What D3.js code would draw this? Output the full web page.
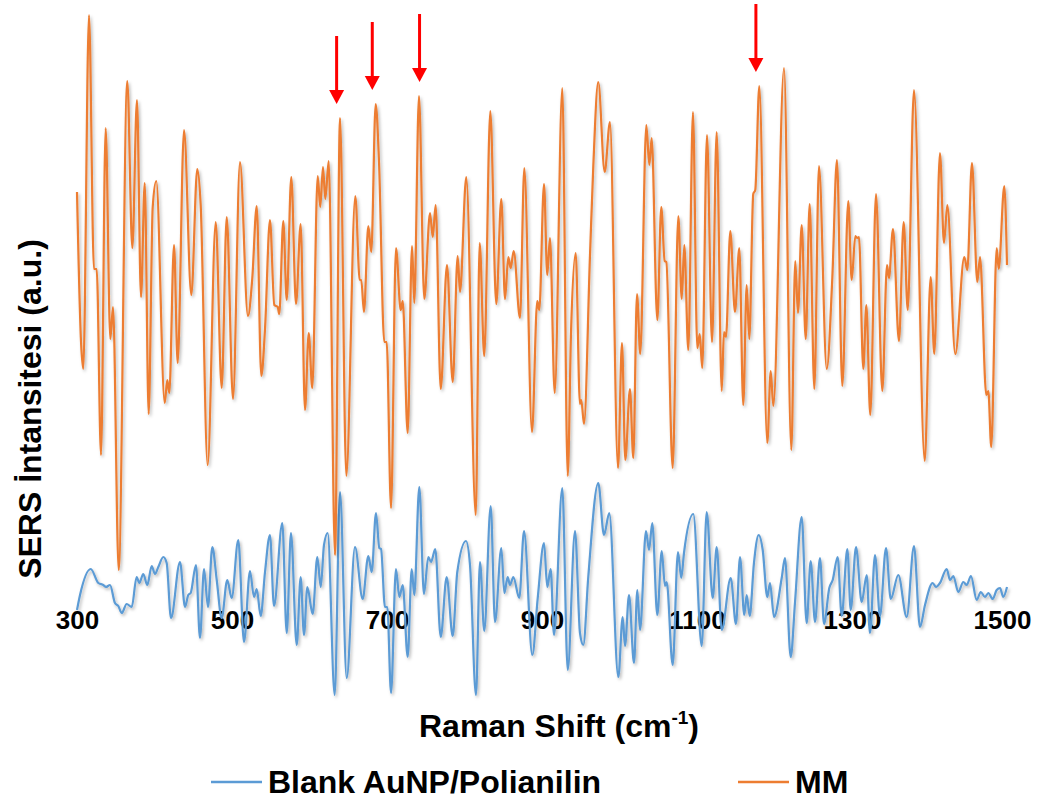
<!DOCTYPE html>
<html>
<head>
<meta charset="utf-8">
<script src="https://cdn.jsdelivr.net/npm/d3@7"></script>
<style>
  html, body { margin: 0; padding: 0; background: #ffffff; }
  svg { display: block; font-family: "Liberation Sans", Arial, sans-serif; }
</style>
</head>
<body>
<svg id="chart" width="1051" height="803"></svg>
<script>
// Raman shift (cm-1) and SERS intensity (a.u.), baseline-subtracted
const mmShift = [300,305.2,308.1,315.5,321.9,325.4,331,337,343,346.5,353.8,364.9,371.4,377.4,382.6,387.4,392.5,397.7,402.3,413.2,416.5,419.1,425.2,429.9,438.1,447.5,455.2,459.6,468.6,479,486.7,493.2,501.3,510.3,520.6,526.2,531.9,537.8,542.6,549,554.6,559,561,566.2,570.6,576.5,582.6,588.6,594.2,599,603.6,610.6,613.9,617.4,620.4,624.8,632.9,639.4,647.5,659.1,664.8,666.8,670.3,675.9,679.7,685.4,689.7,696.5,699.6,705.2,711.6,717.7,720.3,726.7,732.3,735.2,741.3,748.1,755.5,759,762.8,769.3,777.4,784.8,791.2,794.2,802.3,814.5,819.6,825.5,833.3,841,847.5,852.3,856.5,859.6,863.5,871.6,877.2,887.1,893.9,896.5,902.6,906.8,910.3,916.4,926.2,933.2,937.5,943.5,949,950.7,954.2,961.9,966.2,972.6,980.9,987.7,998.1,1003.2,1007.5,1013.5,1017.8,1022.6,1026.8,1034.6,1038.5,1041.5,1048.8,1053.9,1058.3,1060.4,1068.6,1075.9,1080.3,1083.6,1088.8,1094.8,1100.4,1103.5,1106.8,1112.9,1119.4,1125.4,1131.9,1134.8,1137.4,1143,1149,1154.6,1159.7,1164.1,1167.5,1172.6,1175.2,1180.4,1190.7,1195.1,1198.5,1212.3,1221.7,1226.8,1230.3,1235.1,1240.3,1245.4,1251.4,1257.4,1267.4,1274.6,1280.6,1287.5,1295.2,1299.6,1304.3,1306.8,1309,1314.6,1318.5,1323.6,1331,1339.1,1345.2,1347.7,1352.9,1360.6,1366.7,1371.9,1380,1393.8,1401.5,1406.2,1413.5,1418.7,1423,1433.3,1444.9,1448.8,1454.8,1461.7,1465.2,1473.3,1475.9,1479.7,1486.7,1489.3,1496.5,1500];
const mmIntensity = [395,245,218,572,318,318,132,459,248,280,17,506,339,487,290,404,173,380,406,184,207,194,342,224,457,292,418,382,122,365,199,370,188,425,271,309,381,211,258,367,282,280,273,366,287,410,283,363,177,254,199,411,380,420,388,426,32,469,111,391,307,307,275,361,335,483,425,245,245,79,339,277,286,154,341,284,491,288,374,350,382,198,322,205,331,295,410,72,344,231,476,283,388,288,330,319,336,269,419,155,286,277,403,312,349,194,499,111,256,334,183,187,163,331,421,505,415,465,119,244,127,198,129,293,233,462,422,449,267,380,326,325,119,371,288,342,237,475,239,253,219,452,245,455,196,255,250,356,275,339,182,302,248,393,397,501,144,216,181,519,137,326,274,362,248,383,198,421,218,309,427,201,386,307,351,349,350,218,282,172,393,196,322,309,358,246,365,277,497,126,310,233,434,344,382,233,330,317,424,305,330,192,196,140,339,318,401,322];

const blankShift = [300,303.9,317.7,327.5,333.9,337.4,342.6,349,353.3,357.7,364.1,370.6,377,380.4,385.5,390.7,396.4,400.6,404.9,411.4,415.7,421.3,432.9,439.4,443.6,446.7,453.5,458.7,463.9,469,474.6,480.3,486.7,493.9,499.6,508.1,515.5,523.2,528.4,531.9,537,542.6,549,554.2,564.9,570.6,576.1,583.5,588.6,592.9,597.2,604.1,610.1,614.5,618.7,623.5,632.5,639.4,648,658.7,668.6,675.9,680.3,685.8,690.1,692.3,697.4,700.4,705.2,711.6,715.9,720.3,726.7,731.9,735.2,741.7,747.7,753.3,756.8,762.3,769.3,777,784.8,790.7,801.9,807.1,814.8,820,825.5,833.8,839.4,847.5,851.4,855.7,858.7,863,870.7,876.8,887.5,894.5,902.6,906.8,911.2,915.5,926.2,933.2,942.6,949,953.3,959.7,972.6,980,986.8,998.5,1004.1,1007.1,1012.3,1018.7,1023,1026.5,1034.2,1038.1,1042.3,1048.8,1054.5,1058.7,1060.9,1068.6,1075.5,1079.7,1083.2,1095.2,1106.1,1112.5,1120.3,1125.4,1131.9,1143.5,1150.3,1155.5,1161,1164.1,1168,1173.5,1179.6,1184.8,1190.7,1194.2,1199.4,1209.3,1213.5,1220.9,1226.5,1235.1,1241.5,1246.7,1252.3,1258.7,1263.9,1270.7,1275.1,1281.5,1286.7,1294,1298.3,1305.2,1312.5,1319,1323.2,1329.7,1336.1,1343.9,1350,1359.7,1370.6,1380,1387.7,1394.2,1404.1,1408.4,1413.5,1422.2,1426.5,1430.7,1437.2,1443.6,1448,1453.5,1460.9,1466.1,1471.6,1475.9,1481.5,1486.7,1491,1495.2,1500];
const blankIntensity = [-23,-8,18,4,2,0,2,-16,-19,-26,-17,-20,10,4,13,2,21,13,20,30,24,-31,25,-20,-8,-6,22,-51,18,-20,40,7,-31,7,-11,47,-55,16,-10,-2,-29,15,52,-19,64,-46,54,-58,10,-48,0,-27,30,0,42,54,-108,95,-91,40,-12,31,15,74,39,38,-20,-20,-106,18,-10,2,-70,18,-8,100,-7,30,25,38,-50,10,-49,15,46,22,-108,25,-44,81,-35,39,-6,10,2,10,-11,56,-68,-11,44,0,18,-48,99,-83,56,-46,-58,10,104,52,74,-90,-30,-59,-8,-76,-3,-43,56,37,64,-28,36,1,5,-78,35,9,34,73,-59,75,-11,40,-43,9,-37,30,-28,-8,-29,24,52,37,-10,4,-30,9,29,-70,-15,70,-36,26,-35,29,-37,-1,7,30,-29,38,-23,40,-15,12,-46,32,-29,39,-12,12,-30,41,-40,-18,4,0,4,18,7,11,-5,5,2,11,-13,-5,-10,-6,-12,-3,-1,-10,0];

const tickValues = [300, 500, 700, 900, 1100, 1300, 1500];
const markedPeaks = [635, 681, 742, 1176];

const seriesNames = ["Blank AuNP/Polianilin", "MM"];
const seriesColors = ["#5B9BD5", "#ED7D31"];

const svg = d3.select("#chart");

// soft outer shadow used on the plotted lines and the baseline
const defs = svg.append("defs");
const shadow = defs.append("filter").attr("id", "shadow")
  .attr("x", "-5%").attr("y", "-5%").attr("width", "110%").attr("height", "110%");
shadow.append("feDropShadow")
  .attr("dx", 1.5).attr("dy", 2).attr("stdDeviation", 1.8)
  .attr("flood-color", "#000").attr("flood-opacity", 0.28);

const x = d3.scaleLinear().domain([300, 1500]).range([77, 1007]);
const y = d3.scaleLinear().domain([0, 100]).range([587, 487]);

// zero baseline
svg.append("line")
  .attr("x1", x(300)).attr("x2", x(1500))
  .attr("y1", y(0)).attr("y2", y(0))
  .attr("stroke", "#C8C8C8").attr("stroke-width", 2)
  .attr("filter", "url(#shadow)");

// tick labels along the baseline; the last one is nudged inward
const xAxis = d3.axisBottom(x).tickValues(tickValues).tickSize(0).tickPadding(0)
  .tickFormat(d3.format("d"));
const gx = svg.append("g").attr("transform", `translate(0,${y(0)})`).call(xAxis);
gx.select(".domain").remove();
gx.selectAll("text")
  .attr("dy", null).attr("y", 42)
  .attr("x", d => d === 1500 ? -5 : 0)
  .attr("fill", "#000")
  .style("font-family", "'Liberation Sans', Arial, sans-serif")
  .style("font-size", "26px").style("font-weight", "bold");

const line = d3.line()
  .x(d => x(d[0])).y(d => y(d[1]))
  .curve(d3.curveMonotoneX);

const blank = d3.zip(blankShift, blankIntensity);
const mm = d3.zip(mmShift, mmIntensity);

svg.append("path").datum(blank)
  .attr("d", line).attr("fill", "none")
  .attr("stroke", seriesColors[0]).attr("stroke-width", 2.2)
  .attr("stroke-linejoin", "round")
  .attr("filter", "url(#shadow)");

svg.append("path").datum(mm)
  .attr("d", line).attr("fill", "none")
  .attr("stroke", seriesColors[1]).attr("stroke-width", 2.2)
  .attr("stroke-linejoin", "round")
  .attr("filter", "url(#shadow)");

// red arrows above the marked MM bands
const arrows = svg.append("g").attr("fill", "#FF0000").attr("stroke", "#FF0000");
markedPeaks.forEach(p => {
  const near = mm.filter(d => Math.abs(d[0] - p) < 9);
  const top = d3.max(near, d => d[1]);
  const tipY = y(top) - 14;
  const ax = x(p);
  arrows.append("line")
    .attr("x1", ax).attr("x2", ax)
    .attr("y1", tipY - 68).attr("y2", tipY - 10)
    .attr("stroke-width", 3);
  arrows.append("path")
    .attr("stroke", "none")
    .attr("d", `M${ax - 7.5},${tipY - 14} L${ax + 7.5},${tipY - 14} L${ax},${tipY} Z`);
});

// axis titles
svg.append("text")
  .attr("transform", `translate(41,409) rotate(-90)`)
  .attr("text-anchor", "middle")
  .style("font-size", "32px").style("font-weight", "bold")
  .attr("fill", "#000")
  .text("SERS İntansitesi (a.u.)");

const xt = svg.append("text")
  .attr("x", 559).attr("y", 737)
  .attr("text-anchor", "middle")
  .style("font-size", "32px").style("font-weight", "bold")
  .attr("fill", "#000");
xt.append("tspan").text("Raman Shift (cm");
xt.append("tspan").attr("dy", -13).style("font-size", "19px").text("-1");
xt.append("tspan").attr("dy", 13).text(")");

// legend
const legendX = [211, 738];
const legend = svg.append("g");
seriesNames.forEach((name, i) => {
  legend.append("line")
    .attr("x1", legendX[i]).attr("x2", legendX[i] + 51)
    .attr("y1", 782).attr("y2", 782)
    .attr("stroke", seriesColors[i]).attr("stroke-width", 2.5);
  legend.append("text")
    .attr("x", legendX[i] + 57).attr("y", 793)
    .style("font-size", "32px").style("font-weight", "bold")
    .attr("fill", "#000")
    .text(name);
});
</script>
</body>
</html>
